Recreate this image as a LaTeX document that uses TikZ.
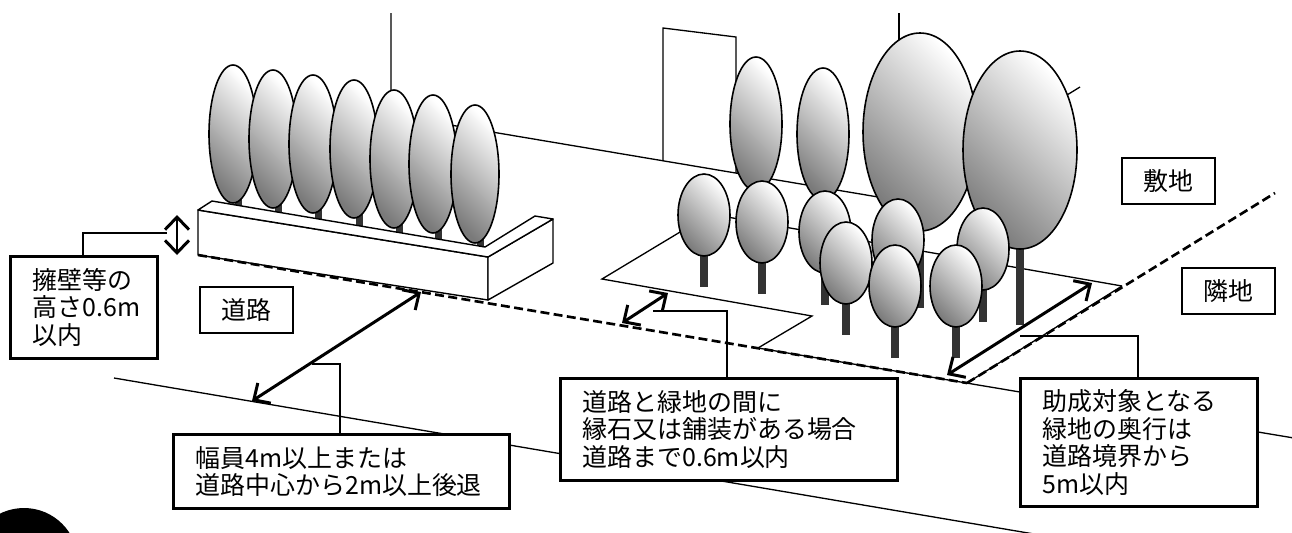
\documentclass[tikz,border=0pt]{standalone}
\usepackage{fontspec}
\setmainfont{Noto Sans CJK JP}
\usepackage{tikz}
\usetikzlibrary{arrows.meta}
\tikzset{>={Straight Barb[length=2.5mm, width=4.8mm]}}
\tikzstyle{crown} = [draw = black, line width = 0.9pt, top color = black!52, bottom color = white, shading angle = 135]
\tikzstyle{stem} = [fill = black!80]
\tikzstyle{ground} = [draw = black, line width = 0.75pt]
\tikzstyle{wall} = [draw = black, fill = white, line width = 0.8pt, line join = round]
\tikzstyle{roadedge} = [line width = 1.5pt, dash pattern = on 5.1pt off 2.5pt]
\tikzstyle{measure} = [<->, line width = 1.7pt]
\tikzstyle{leader} = [line width = 0.75pt]
\tikzstyle{note} = [rectangle, draw = black, fill = white, line width = 1.7pt, anchor = north west, align = left, inner xsep = 0.44cm]
\tikzstyle{tag} = [rectangle, draw = black, fill = white, line width = 0.8pt, minimum width = 1.86cm, minimum height = 0.92cm]

\begin{document}
\begin{tikzpicture}[x = 0.02cm, y = -0.02cm, font = \fontsize{14.2}{15.6}\selectfont]
\useasboundingbox (0, 0) rectangle (1292, 532);
\clip (0, 0) rectangle (1292, 532);
% buildings behind the site
\draw [ground] (391, 13) -- (391, 115) -- (896, 200) -- (1080, 87);
\draw [ground] (899, 13) -- (899, 200);
\draw [ground] (663, 161) -- (663, 28) -- (736, 37) -- (736, 173);
% green area and road
\draw [ground] (1122, 286) -- (710, 214) -- (602, 279) -- (812, 316) -- (758, 348);
\draw [ground] (758, 348) -- (1292, 437.7);
\draw [ground] (967, 383) -- (1122, 286);
\draw [ground] (114, 378) -- (1040, 535);
\fill (24, 562) circle [radius = 54];
% hedge on the retaining wall
\foreach \cx/\cy in {233/134, 273/139, 313/144, 354/149, 394/159, 433/164, 475/174}
  \fill [stem] (\cx + 1.5, \cy) rectangle (\cx + 8.5, \cy + 80);
\draw [wall] (198, 210) -- (488, 257) -- (488, 300) -- (198, 255) -- cycle;
\draw [wall] (488, 257) -- (553, 219) -- (553, 263) -- (488, 300) -- cycle;
\draw [wall] (198, 210) -- (212, 201) -- (485, 247) -- (535, 216) -- (553, 219) -- (488, 257) -- cycle;
\foreach \cx/\cy in {233/134, 273/139, 313/144, 354/149, 394/159, 433/164, 475/174}
  \draw [crown] (\cx, \cy) ellipse [x radius = 24, y radius = 69];
% trees of the green area
\foreach \cx/\cy/\rx/\ry/\tb in {756/124/26/67/200, 823/134/26/66/210, 920/132/57/99/308, 1020/150/57/99/325, 704/215/26/41/287, 762/222/26/41/294, 825/232/26/41/305, 898/240/26/41/315, 983/249/26/41/322, 846/263/26/41/335, 895/286/26/41/358, 956/286/26/41/358}
{
  \fill [stem] (\cx - 4, \cy) rectangle (\cx + 4, \tb);
  \draw [crown] (\cx, \cy) ellipse [x radius = \rx, y radius = \ry];
}
% road boundary
\draw [roadedge] (198, 255) -- (967, 383);
\draw [roadedge] (967, 383) -- (1275, 193);
% labels
\node [tag] (road) at (246.5, 310) {道路};
\node [tag] (site) at (1168.5, 181) {敷地};
\node [tag] (next) at (1228.5, 291) {隣地};
\node [note, text width = 2.06cm, minimum height = 2.04cm] (LB) at (9, 255) {擁壁等の\\高さ0.6m\\以内};
\node [note, text width = 5.84cm, minimum height = 1.48cm] (WR) at (172, 433) {幅員4m以上または\\道路中心から2m以上後退};
\node [note, text width = 5.86cm, minimum height = 2.04cm] (MB) at (559, 377) {道路と緑地の間に\\縁石又は舗装がある場合\\道路まで0.6m以内};
\node [note, text width = 3.86cm, minimum height = 2.56cm] (RB) at (1019, 377) {助成対象となる\\緑地の奥行は\\道路境界から\\5m以内};
% dimensions
\coordinate (hA) at (177, 215);
\coordinate (hB) at (177, 255);
\coordinate (wA) at (421, 292);
\coordinate (wB) at (252, 401);
\coordinate (cA) at (668, 293);
\coordinate (cB) at (622, 323);
\coordinate (dA) at (1092, 283);
\coordinate (dB) at (947, 375);
\draw [measure] (hA) -- (hB);
\draw [measure] (wA) -- (wB);
\draw [measure] (cA) -- (cB);
\draw [measure] (dA) -- (dB);
% leaders
\coordinate (lk) at (83, 233);
\coordinate (le) at (167, 233);
\coordinate (wk) at (340, 364);
\coordinate (we) at (312, 364);
\coordinate (mk) at (727, 311);
\coordinate (me) at (653, 311);
\coordinate (rk) at (1138, 336);
\coordinate (re) at (1020, 336);
\draw [leader] (lk |- LB.north) -- (lk) -- (le);
\draw [leader] (wk |- WR.north) -- (wk) -- (we);
\draw [leader] (mk |- MB.north) -- (mk) -- (me);
\draw [leader] (rk |- RB.north) -- (rk) -- (re);
\end{tikzpicture}
\end{document}
